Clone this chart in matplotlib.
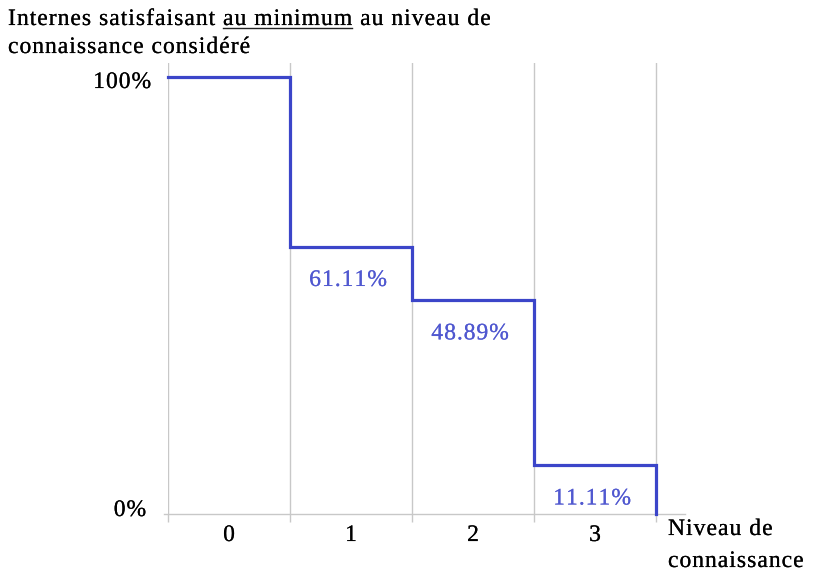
import matplotlib
matplotlib.use("Agg")
import matplotlib.pyplot as plt
from matplotlib.lines import Line2D
from matplotlib.font_manager import FontProperties
import matplotlib.patheffects as pe

plt.rcParams['font.family'] = ['Liberation Serif', 'DejaVu Serif']

levels = [0, 1, 2, 3]
values = [1.0, 0.6111, 0.4889, 0.1111]
value_labels = ["61.11%", "48.89%", "11.11%"]
ytick_vals = [0, 1]
ytick_labels = ["0%", "100%"]
title_parts = ["Internes satisfaisant ", "au minimum", " au niveau de"]
title_line2 = "connaissance considéré"
xlabel_lines = ["Niveau de", "connaissance"]

W, H = 815, 572
FS = 17
TRACK = 1.0
fig = plt.figure(figsize=(W / 100, H / 100), dpi=100)
renderer = fig.canvas.get_renderer()
prop = FontProperties(family='Liberation Serif', size=FS)


def _w(s):
    return renderer.get_text_width_height_descent(s, prop, ismath=False)[0]


_bar = _w("||")


def advances(s):
    return [_w("|" + c + "|") - _bar for c in s]


def tracked(x_px, y_px, s, ha='left', color='black'):
    """Draw string s with extra letter spacing; y_px = baseline (top-origin pixels)."""
    adv = advances(s)
    total = sum(adv) + TRACK * (len(s) - 1)
    if ha == 'right':
        x_px -= total
    elif ha == 'center':
        x_px -= total / 2
    start = x_px
    for c, a in zip(s, adv):
        if c != ' ':
            fig.text(x_px / W, 1 - y_px / H, c, ha='left', va='baseline',
                     fontproperties=prop, color=color,
                     path_effects=[pe.withStroke(linewidth=0.12, foreground=color)])
        x_px += a + TRACK
    return start, x_px - TRACK


x0, x_axis_end, unit = 168, 685, 122
y0, ytop, y100 = 514, 63, 77
ax = fig.add_axes([x0 / W, (H - y0) / H, (x_axis_end - x0) / W, (y0 - ytop) / H])
ax.set_xlim(0, (x_axis_end - x0) / unit)
ax.set_ylim(0, (y0 - ytop) / (y0 - y100))
for s in ax.spines.values():
    s.set_visible(False)

grid_c = '#c8c8c8'
for i in range(len(levels) + 1):
    ax.axvline(i, color=grid_c, lw=1.0, zorder=1)
ax.plot([-0.03, ax.get_xlim()[1]], [0, 0], color=grid_c, lw=1.0, zorder=1, clip_on=False)

# step line
xs, ys = [], []
for i, v in enumerate(values):
    xs += [i, i + 1]
    ys += [v, v]
xs.append(len(values))
ys.append(0)
line_c = '#3b45c9'
ax.plot(xs, ys, color=line_c, lw=2.3, solid_joinstyle='miter', zorder=3, clip_on=False)

# ticks
ax.set_xticks(range(len(levels) + 1))
ax.set_xticklabels([])
ax.tick_params(axis='x', which='major', direction='out', length=6, color=grid_c, width=1.0)
ax.set_yticks([])


def to_px(x, y):
    dx, dy = ax.transData.transform((x, y))
    return dx, H - dy


# x category labels
for l in levels:
    px, _ = to_px(l + 0.5, 0)
    tracked(px, 541, str(l), ha='center')

# data labels
for i, (v, lab) in enumerate(zip(values[1:], value_labels)):
    px, py = to_px(i + 1.5, v)
    tracked(px - 3, py + 39, lab, ha='center', color='#5058d0')

# y labels
_, py1 = to_px(0, ytick_vals[1])
tracked(151, py1 + 11, ytick_labels[1], ha='right')
_, py0 = to_px(0, ytick_vals[0])
tracked(146, py0 + 2, ytick_labels[0], ha='right')

# x axis title
tracked(668, 535, xlabel_lines[0])
tracked(668, 567, xlabel_lines[1])

# title with underlined part
x = 8
for k, part in enumerate(title_parts):
    s, e = tracked(x, 25, part)
    if k == 1:
        fig.add_artist(Line2D([s / W, e / W], [1 - 28 / H, 1 - 28 / H], color='#222222',
                              lw=1.0, transform=fig.transFigure))
    x = e + TRACK
tracked(8, 53, title_line2)

fig.savefig("out.png", dpi=100)
